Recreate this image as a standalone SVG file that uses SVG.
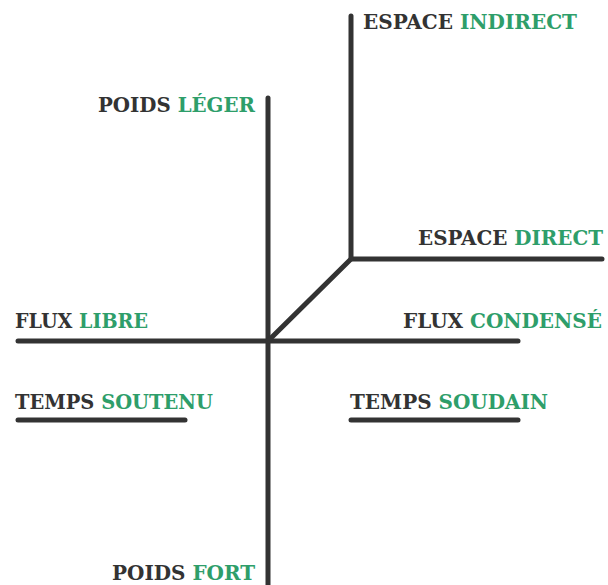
<svg xmlns="http://www.w3.org/2000/svg" width="608" height="585" viewBox="0 0 608 585">
<style>
.ln{stroke:#333;stroke-width:5;stroke-linecap:round;stroke-linejoin:round;fill:none}
.t{font-family:"DejaVu Serif","Liberation Serif",serif;font-weight:bold;font-size:21px;fill:#333}
.g{fill:#2e9e6a}
</style>
<rect width="608" height="585" fill="#fff"/>
<g id="connectors">
<path class="ln" d="M268,98 V590"/>
<path class="ln" d="M18,341 H518"/>
<path class="ln" d="M268,341 L351,259 H602"/>
<path class="ln" d="M351,16 V259"/>
<path class="ln" d="M18,420 H185"/>
<path class="ln" d="M351,420 H518"/>
</g>
<g id="espace-indirect"><text class="t" x="363" y="29" textLength="214" lengthAdjust="spacingAndGlyphs">ESPACE <tspan class="g">INDIRECT</tspan></text></g>
<g id="poids-leger"><text class="t" x="98" y="112" textLength="157" lengthAdjust="spacingAndGlyphs">POIDS <tspan class="g">LÉGER</tspan></text></g>
<g id="espace-direct"><text class="t" x="418" y="245" textLength="185" lengthAdjust="spacingAndGlyphs">ESPACE <tspan class="g">DIRECT</tspan></text></g>
<g id="flux-libre"><text class="t" x="15" y="328" textLength="133" lengthAdjust="spacingAndGlyphs">FLUX <tspan class="g">LIBRE</tspan></text></g>
<g id="flux-condense"><text class="t" x="403" y="328" textLength="199" lengthAdjust="spacingAndGlyphs">FLUX <tspan class="g">CONDENSÉ</tspan></text></g>
<g id="temps-soutenu"><text class="t" x="15" y="409" textLength="198" lengthAdjust="spacingAndGlyphs">TEMPS <tspan class="g">SOUTENU</tspan></text></g>
<g id="temps-soudain"><text class="t" x="350" y="409" textLength="198" lengthAdjust="spacingAndGlyphs">TEMPS <tspan class="g">SOUDAIN</tspan></text></g>
<g id="poids-fort"><text class="t" x="112" y="580" textLength="143" lengthAdjust="spacingAndGlyphs">POIDS <tspan class="g">FORT</tspan></text></g>
</svg>
